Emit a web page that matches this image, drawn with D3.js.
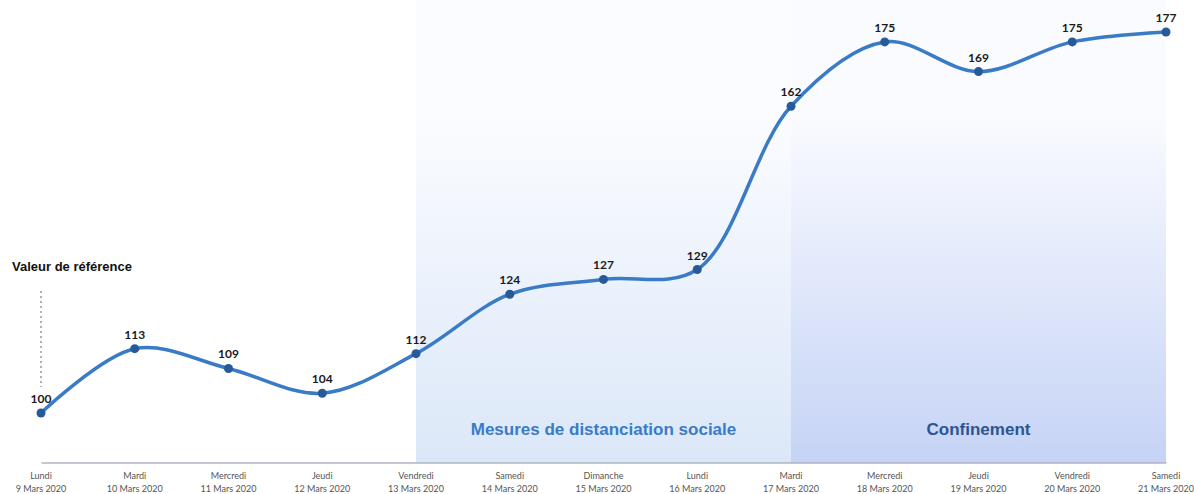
<!DOCTYPE html>
<html><head><meta charset="utf-8">
<script src="https://cdn.jsdelivr.net/npm/d3@7"></script>
<style>body{margin:0;background:#fff;}svg{display:block;font-family:"Liberation Sans",Arial,sans-serif;}</style>
</head><body>
<svg id="c" width="1194" height="494"></svg>
<script>
const days = ["Lundi","Mardi","Mercredi","Jeudi","Vendredi","Samedi","Dimanche","Lundi","Mardi","Mercredi","Jeudi","Vendredi","Samedi"];
const dates = ["9 Mars 2020","10 Mars 2020","11 Mars 2020","12 Mars 2020","13 Mars 2020","14 Mars 2020","15 Mars 2020","16 Mars 2020","17 Mars 2020","18 Mars 2020","19 Mars 2020","20 Mars 2020","21 Mars 2020"];
const values = [100,113,109,104,112,124,127,129,162,175,169,175,177];
const periods = [
  {label:"Mesures de distanciation sociale", start:4, end:8, top:"#fbfcff", bottom:"#dbe7f8", text:"#3a7bc8"},
  {label:"Confinement", start:8, end:12, top:"#fafbff", bottom:"#c5d3f5", text:"#2c5591"}
];
const refLabel = "Valeur de référence";

const svg = d3.select("#c");
const idx = d3.range(values.length);
const x = d3.scaleLinear().domain([0, values.length-1]).range([41, 1166]);
const y = d3.scaleLinear().domain([90, 177]).range([462.5, 32]);

const defs = svg.append("defs");
periods.forEach((p,i)=>{
  const g = defs.append("linearGradient").attr("id","g"+i).attr("x1",0).attr("x2",0).attr("y1",0).attr("y2",1);
  g.append("stop").attr("offset","0%").attr("stop-color",p.top);
  g.append("stop").attr("offset","25%").attr("stop-color",p.top);
  g.append("stop").attr("offset","100%").attr("stop-color",p.bottom);
  svg.append("rect").attr("x",x(p.start)).attr("width",x(p.end)-x(p.start))
    .attr("y",0).attr("height",y(90)).attr("fill","url(#g"+i+")");
  svg.append("text").attr("x",(x(p.start)+x(p.end))/2).attr("y",435)
    .attr("text-anchor","middle").attr("font-size",17).attr("font-weight","bold")
    .attr("fill",p.text).text(p.label);
});

// axis
const ax = svg.append("g").attr("transform",`translate(0,${y(90)})`)
  .call(d3.axisBottom(x).tickValues(idx).tickSize(0).tickFormat(""));
ax.select(".domain").attr("stroke","#8a8fa0").attr("stroke-width",1.2);
const tl = svg.append("g");
idx.forEach(i=>{
  const t = tl.append("text").attr("x",x(i)).attr("text-anchor","middle")
    .attr("font-size",9).attr("fill","#555").attr("font-family","Lato, sans-serif");
  t.append("tspan").attr("x",x(i)).attr("y",479).text(days[i]);
  t.append("tspan").attr("x",x(i)).attr("y",492).text(dates[i]);
});

// reference
svg.append("text").attr("x",12).attr("y",271).attr("font-size",13).attr("font-weight","bold")
  .attr("fill","#111").text(refLabel);
svg.append("line").attr("x1",x(0)).attr("x2",x(0)).attr("y1",291).attr("y2",387)
  .attr("stroke","#888").attr("stroke-width",1.3).attr("stroke-dasharray","2,3");

// line
const line = d3.line().x(i=>x(i)).y(i=>y(values[i])).curve(d3.curveCatmullRom.alpha(0.5));
svg.append("path").datum(idx).attr("d",line).attr("fill","none")
  .attr("stroke","#3a7bc6").attr("stroke-width",3.5).attr("stroke-linecap","round");
svg.selectAll("circle.p").data(idx).join("circle").attr("class","p")
  .attr("cx",i=>x(i)).attr("cy",i=>y(values[i])).attr("r",4.5).attr("fill","#275a98");
svg.selectAll("text.v").data(idx).join("text").attr("class","v")
  .attr("x",i=>x(i)).attr("y",i=>y(values[i])-10).attr("text-anchor","middle")
  .attr("font-size",12).attr("font-weight","bold").attr("fill","#1a1a1a")
  .attr("font-family","Lato, sans-serif").text(i=>values[i]);
</script>
</body></html>
